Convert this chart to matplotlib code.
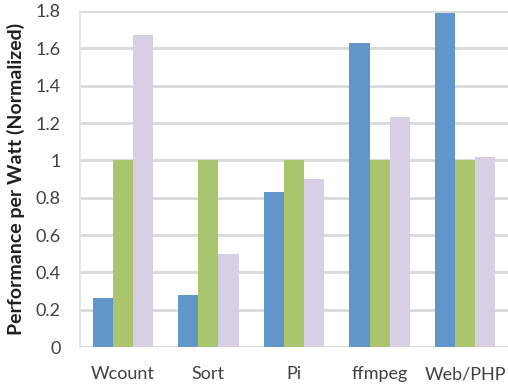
import matplotlib
matplotlib.use("Agg")
import matplotlib.pyplot as plt
import numpy as np

categories = ["Wcount", "Sort", "Pi", "ffmpeg", "Web/PHP"]
series_a = [0.26, 0.28, 0.83, 1.63, 1.79]
series_b = [1.0, 1.0, 1.0, 1.0, 1.0]
series_c = [1.67, 0.50, 0.90, 1.23, 1.02]
yticks = [0, 0.2, 0.4, 0.6, 0.8, 1, 1.2, 1.4, 1.6, 1.8]
ytick_labels = ["0", "0.2", "0.4", "0.6", "0.8", "1", "1.2", "1.4", "1.6", "1.8"]

plt.rcParams['font.family'] = ['Lato', 'DejaVu Sans']

fig = plt.figure(figsize=(5.08, 3.92), dpi=100)
ax = fig.add_axes([80/508, 1-347/392, 428/508, 336/392])

x = np.arange(len(categories))
w = 0.235
colors = ["#6196CA", "#ABC46E", "#D7CFE3"]
for i, (vals, c) in enumerate(zip([series_a, series_b, series_c], colors)):
    ax.bar(x + (i-1)*w, vals, width=w, color=c, zorder=3)

ax.set_xlim(-0.5, len(categories)-0.5)
ax.set_ylim(0, 1.8)
ax.set_yticks(yticks)
ax.set_yticklabels(ytick_labels)
ax.set_xticks(x)
ax.set_xticklabels(categories)
ax.yaxis.grid(True, color="#D9D9D9", linewidth=2, zorder=0)
for s in ["top", "right", "bottom"]:
    ax.spines[s].set_visible(False)
ax.spines["left"].set_color("#E6E6E6")
ax.spines["left"].set_linewidth(1.5)
ax.tick_params(axis="both", length=0, labelsize=13, colors="#404040")
ax.tick_params(axis="y", pad=14)
ax.tick_params(axis="x", pad=14)
ax.set_ylabel("Performance per Watt (Normalized)", fontsize=14, fontweight="bold", color="#202020")
ax.yaxis.set_label_coords(-(80-25)/428, 0.5)
fig.savefig("out.png", dpi=100)
